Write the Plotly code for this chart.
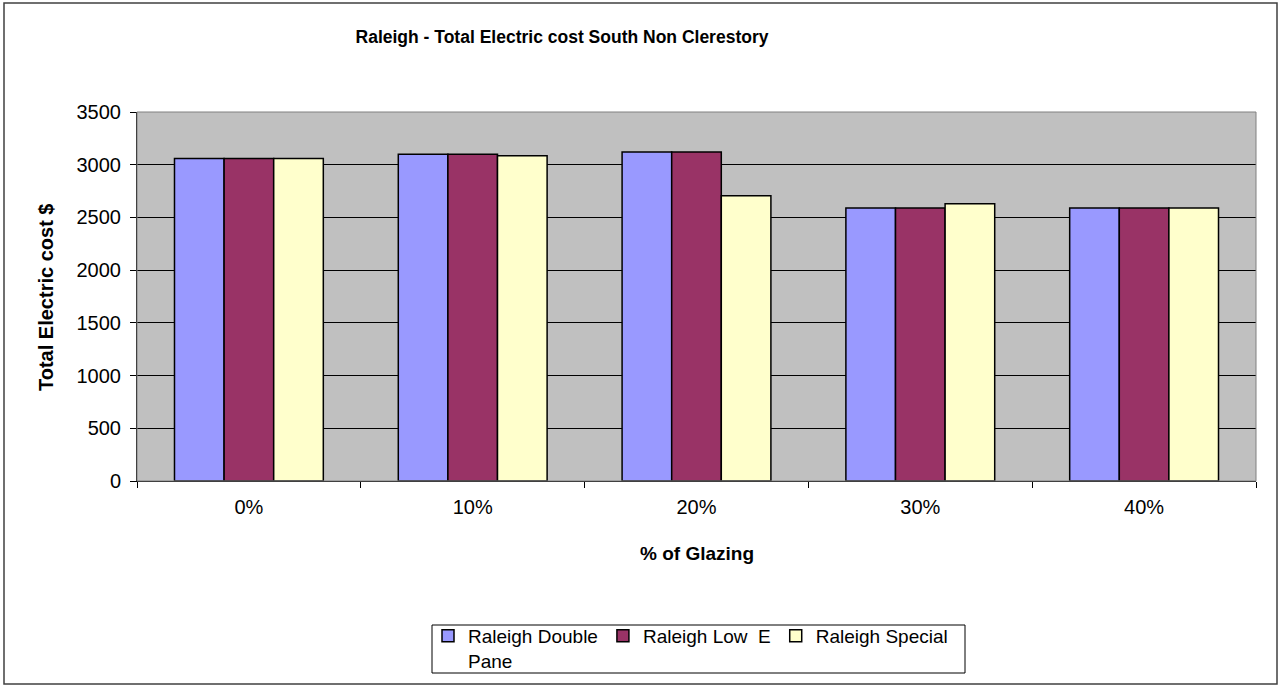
import plotly.graph_objects as go

# Glazing percentages on the category axis
glazing = ["0%", "10%", "20%", "30%", "40%"]

# Total electric cost ($) per glazing type
double_pane = [3060, 3100, 3120, 2590, 2590]
low_e = [3060, 3100, 3120, 2590, 2590]
special = [3060, 3085, 2705, 2630, 2590]

series_names = ["Raleigh Double<br>Pane", "Raleigh Low\u00a0 E", "Raleigh Special"]
series_values = [double_pane, low_e, special]
series_colors = ["#9999FF", "#993366", "#FFFFCC"]

y_ticks = [0, 500, 1000, 1500, 2000, 2500, 3000, 3500]

FONT = "Liberation Sans, Arial, sans-serif"

fig = go.Figure()
for name, vals, col in zip(series_names, series_values, series_colors):
    fig.add_trace(go.Bar(
        x=glazing, y=vals, name=name,
        marker=dict(color=col, line=dict(color="black", width=1.5)),
    ))

W, H = 1279, 686
ml, mr, mt, mb = 137, 23, 112, 205
pw = W - ml - mr
ph = H - mt - mb

def px_x(x):
    return (x - ml) / pw

def px_y(y):
    return (H - mb - y) / ph

fig.update_layout(
    width=W, height=H,
    margin=dict(l=ml, r=mr, t=mt, b=mb, autoexpand=False),
    paper_bgcolor="white",
    plot_bgcolor="#C0C0C0",
    font=dict(family=FONT, color="black", size=18),
    barmode="group",
    bargap=0.335,
    bargroupgap=0,
    title=dict(
        text="<b>Raleigh - Total Electric cost South Non Clerestory</b>",
        x=562 / W, xanchor="center", xref="container",
        y=1 - 37 / H, yanchor="middle", yref="container",
        font=dict(size=17.5, family=FONT, color="black"),
    ),
    legend=dict(
        orientation="h",
        x=px_x(428), xanchor="left",
        y=px_y(617), yanchor="top",
        bgcolor="rgba(0,0,0,0)", borderwidth=0,
        font=dict(size=19, family=FONT, color="black"),
        valign="top",
        itemwidth=30,
        traceorder="normal",
    ),
    xaxis=dict(
        type="category",
        tickson="boundaries",
        ticks="outside", ticklen=6, tickcolor="black",
        showline=True, linecolor="black", linewidth=1,
        showgrid=False,
        tickfont=dict(size=20, family=FONT),
        ticklabelstandoff=8,
    ),
    yaxis=dict(
        range=[0, 3500],
        tickvals=y_ticks,
        ticks="outside", ticklen=6, tickcolor="black",
        showline=True, linecolor="black", linewidth=1,
        showgrid=True, gridcolor="black", gridwidth=1,
        zeroline=False,
        tickfont=dict(size=20, family=FONT),
        ticklabelstandoff=5,
    ),
    annotations=[
        dict(text="<b>Total Electric cost $</b>", textangle=-90,
             xref="paper", yref="paper", x=px_x(46), y=px_y(298),
             xanchor="center", yanchor="middle", showarrow=False,
             font=dict(size=20, family=FONT)),
        dict(text="<b>% of Glazing</b>",
             xref="paper", yref="paper", x=0.5, y=px_y(553),
             xanchor="center", yanchor="middle", showarrow=False,
             font=dict(size=19, family=FONT)),
    ],
    shapes=[
        # plot area frame
        dict(type="rect", xref="paper", yref="paper", x0=0, x1=1, y0=0, y1=1,
             line=dict(color="#808080", width=1), layer="above"),
        # legend box
        dict(type="rect", xref="paper", yref="paper",
             x0=px_x(432), x1=px_x(965), y0=px_y(673), y1=px_y(625),
             fillcolor="white", line=dict(color="black", width=1), layer="below"),
        # chart outer border
        dict(type="rect", xref="paper", yref="paper",
             x0=px_x(4), x1=px_x(1277), y0=px_y(684), y1=px_y(3),
             line=dict(color="#404040", width=1.5)),
    ],
)

fig.write_html("out.html")
